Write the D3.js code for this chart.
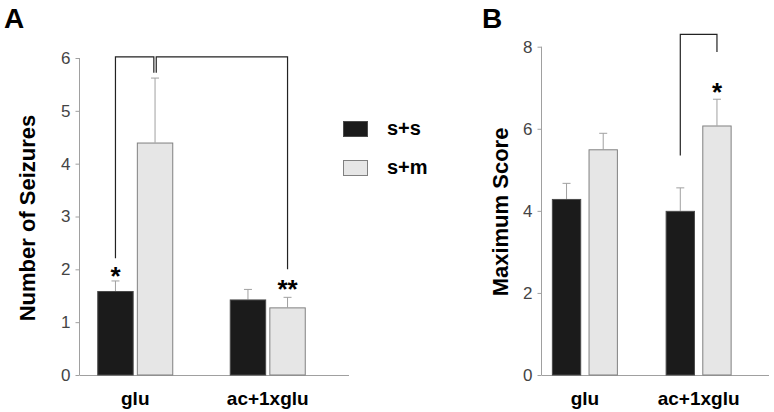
<!DOCTYPE html>
<html>
<head>
<meta charset="utf-8">
<script src="https://cdn.jsdelivr.net/npm/d3@7"></script>
<style>
  body { margin: 0; background: #fff; }
  svg { font-family: "Liberation Sans", Arial, sans-serif; }
  .tick text { fill: #444; font-size: 17px; }
  .tick line, .domain { stroke: #a0a0a0; }
</style>
</head>
<body>
<svg width="774" height="412"></svg>
<script>
// categorias y series
const groups = ["glu", "ac+1xglu"];
const series = ["s+s", "s+m"];

// panel A: numero de convulsiones (media y error superior)
const seizuresMean = { "s+s": [1.59, 1.43], "s+m": [4.40, 1.28] };
const seizuresErr  = { "s+s": [0.19, 0.19], "s+m": [1.22, 0.19] };
const seizuresTicks = [0, 1, 2, 3, 4, 5, 6];

// panel B: puntaje maximo
const scoreMean = { "s+s": [4.29, 4.00], "s+m": [5.50, 6.08] };
const scoreErr  = { "s+s": [0.38, 0.56], "s+m": [0.39, 0.64] };
const scoreTicks = [0, 2, 4, 6, 8];

// corchetes de significancia: [grupo, serie, y inicio] -> top -> [grupo, serie, y fin]
const bracketsA = [{ from: ["glu", "s+s", 2.21], to: ["ac+1xglu", "s+m", 2.0], top: 6.02, notch: ["glu", "s+m", 5.72] }];
const bracketsB = [{ from: ["ac+1xglu", "s+s", 5.35], to: ["ac+1xglu", "s+m", 7.87], top: 8.3 }];

// asteriscos
const starsA = [{ g: "glu", s: "s+s", y: 1.99, t: "*" }, { g: "ac+1xglu", s: "s+m", y: 1.74, t: "**" }];
const starsB = [{ g: "ac+1xglu", s: "s+m", y: 7.04, t: "*" }];

const colors = { "s+s": "#1b1b1b", "s+m": "#e6e6e6" };
const strokes = { "s+s": "#4a4a4a", "s+m": "#808080" };

const svg = d3.select("svg");

function panel(o) {
  const x0 = d3.scaleBand().domain(groups).range(o.xRange);
  const x1 = d3.scaleBand().domain(series).range(o.inner).paddingInner(o.pad);
  const y = d3.scaleLinear().domain(o.yDomain).range([375, o.yTop]);
  const cx = (g, s) => x0(g) + x0.bandwidth() / 2 + x1(s) + x1.bandwidth() / 2;

  // eje Y
  svg.append("g")
    .attr("transform", `translate(${o.axisX},0)`)
    .call(d3.axisLeft(y).tickValues(o.ticks).tickFormat(d3.format("d"))
      .tickSize(4).tickPadding(5).tickSizeOuter(0))
    .call(g => g.select(".domain").attr("d", `M0,${y(o.ticks[o.ticks.length - 1])}V375`));

  // eje X (solo linea)
  svg.append("line")
    .attr("x1", o.axisX).attr("x2", o.axisEnd)
    .attr("y1", 375.5).attr("y2", 375.5)
    .attr("stroke", "#a0a0a0");

  // barras
  series.forEach(s => {
    groups.forEach((g, i) => {
      const xc = cx(g, s), w = x1.bandwidth();
      const v = o.mean[s][i], e = o.err[s][i];
      // error (solo superior)
      svg.append("line").attr("x1", xc).attr("x2", xc)
        .attr("y1", y(v)).attr("y2", y(v + e)).attr("stroke", "#a0a0a0");
      svg.append("line").attr("x1", xc - 4).attr("x2", xc + 4)
        .attr("y1", y(v + e)).attr("y2", y(v + e)).attr("stroke", "#a0a0a0");
      svg.append("rect")
        .attr("x", xc - w / 2 + 0.5).attr("y", y(v) + 0.5)
        .attr("width", w - 1).attr("height", y(0) - y(v) - 0.5)
        .attr("fill", colors[s]).attr("stroke", strokes[s]);
    });
  });

  // corchetes
  o.brackets.forEach(b => {
    const xa = cx(b.from[0], b.from[1]), xb = cx(b.to[0], b.to[1]);
    let d;
    if (b.notch) {
      const xn = cx(b.notch[0], b.notch[1]);
      d = `M${xa},${y(b.from[2])}V${y(b.top)}H${xn - 1.2}V${y(b.notch[2])}M${xn + 1.2},${y(b.notch[2])}V${y(b.top)}H${xb}V${y(b.to[2])}`;
    } else {
      d = `M${xa},${y(b.from[2])}V${y(b.top)}H${xb}V${y(b.to[2])}`;
    }
    svg.append("path").attr("d", d).attr("fill", "none")
      .attr("stroke", "#222").attr("stroke-width", 1.2);
  });

  // asteriscos
  o.stars.forEach(st => {
    svg.append("text")
      .attr("x", cx(st.g, st.s)).attr("y", y(st.y) + 15)
      .attr("text-anchor", "middle")
      .style("font-size", "26px").style("font-weight", "bold")
      .text(st.t);
  });

  // etiquetas de categoria
  groups.forEach(g => {
    svg.append("text")
      .attr("x", x0(g) + x0.bandwidth() / 2).attr("y", 405)
      .attr("text-anchor", "middle")
      .style("font-size", "19px").style("font-weight", "bold")
      .text(g);
  });

  // titulo eje Y
  svg.append("text")
    .attr("transform", `translate(${o.titleX},${o.titleY}) rotate(-90)`)
    .attr("text-anchor", "middle")
    .style("font-size", "22px").style("font-weight", "bold")
    .text(o.title);

  // letra del panel
  svg.append("text")
    .attr("x", o.letterX).attr("y", 28)
    .style("font-size", "28px").style("font-weight", "bold")
    .text(o.letter);
}

panel({
  xRange: [69, 334], inner: [-38, 38], pad: 0.08,
  yDomain: [0, 6], yTop: 58, ticks: seizuresTicks,
  axisX: 79.5, axisEnd: 349,
  mean: seizuresMean, err: seizuresErr,
  brackets: bracketsA, stars: starsA,
  title: "Number of Seizures", titleX: 35, titleY: 218,
  letter: "A", letterX: 4
});

panel({
  xRange: [528, 755.5], inner: [-33, 33], pad: 0.2,
  yDomain: [0, 8], yTop: 46.7, ticks: scoreTicks,
  axisX: 541.5, axisEnd: 769,
  mean: scoreMean, err: scoreErr,
  brackets: bracketsB, stars: starsB,
  title: "Maximum Score", titleX: 508, titleY: 212,
  letter: "B", letterX: 482
});

// leyenda
const leg = svg.append("g");
series.forEach((s, i) => {
  leg.append("rect")
    .attr("x", 343.5).attr("y", 121.5 + i * 39)
    .attr("width", 24).attr("height", 15)
    .attr("fill", colors[s]).attr("stroke", strokes[s]);
  leg.append("text")
    .attr("x", 387).attr("y", 135 + i * 39)
    .style("font-size", "20px").style("font-weight", "bold")
    .text(s);
});
</script>
</body>
</html>
